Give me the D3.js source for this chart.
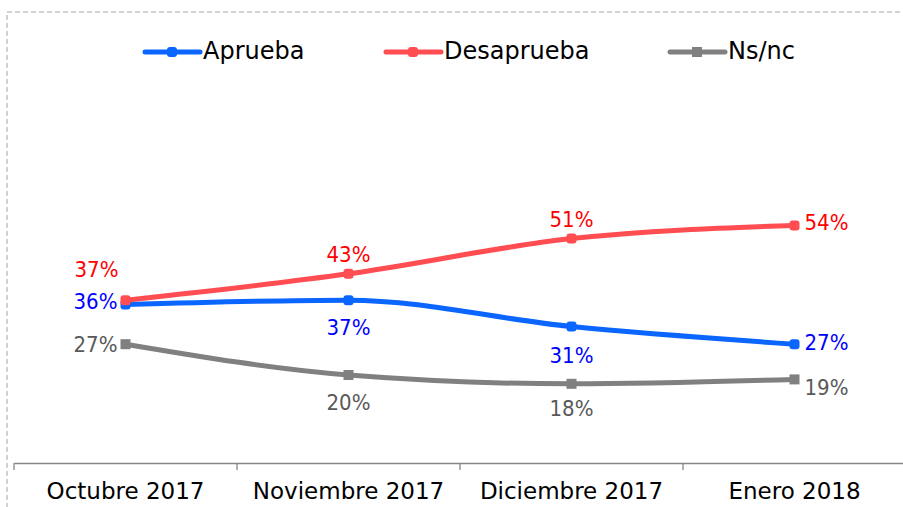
<!DOCTYPE html>
<html>
<head>
<meta charset="utf-8">
<script src="https://cdn.jsdelivr.net/npm/d3@7"></script>
<style>
  body { margin: 0; background: #fff; }
  svg { font-family: "DejaVu Sans Condensed", "DejaVu Sans", sans-serif; }
</style>
</head>
<body>
<svg id="chart" width="903" height="507"></svg>
<script>
// months on the x axis
var months = ["Octubre 2017", "Noviembre 2017", "Diciembre 2017", "Enero 2018"];
// values in percent
var aprueba = [36, 37, 31, 27];
var desaprueba = [37, 43, 51, 54];
var nsnc = [27, 20, 18, 19];
var seriesNames = ["Aprueba", "Desaprueba", "Ns/nc"];

var svg = d3.select("#chart");

// dashed frame round the chart area
svg.append("rect")
    .attr("x", 7).attr("y", 12)
    .attr("width", 920).attr("height", 520)
    .attr("fill", "none")
    .attr("stroke", "#c3c3c3")
    .attr("stroke-width", 1.5)
    .attr("stroke-dasharray", "5,3");

var x = d3.scaleBand().domain(months).range([14, 906]);
var y = d3.scaleLinear().domain([0, 80]).range([463, 111]);

// x axis, ticks between the categories
var axis = svg.append("g")
    .attr("transform", "translate(0,463)")
    .call(d3.axisBottom(x).tickSize(0).tickPadding(20));
axis.select(".domain").attr("stroke", "#868686").attr("stroke-width", 1.3);
axis.selectAll("text")
    .attr("font-size", 23)
    .attr("font-family", "DejaVu Sans")
    .attr("fill", "#000");
axis.selectAll(".sep")
    .data(d3.range(months.length + 1))
    .enter().append("line")
    .attr("class", "sep")
    .attr("x1", i => 14 + i * x.bandwidth())
    .attr("x2", i => 14 + i * x.bandwidth())
    .attr("y1", 0).attr("y2", 7)
    .attr("stroke", "#868686").attr("stroke-width", 1.3);

// label placement per point: [anchor, dx, dy]
var series = [
  { name: seriesNames[0], values: aprueba, color: "#0a66ff", text: "#0000ff", round: 3,
    pos: [["end", -8, 4], ["middle", 0, 35], ["middle", 0, 36], ["start", 10, 6]] },
  { name: seriesNames[1], values: desaprueba, color: "#ff4d52", text: "#ff0000", round: 3,
    pos: [["end", -7, -23], ["middle", 0, -12], ["middle", 0, -12], ["start", 10, 5]] },
  { name: seriesNames[2], values: nsnc, color: "#808080", text: "#595959", round: 0,
    pos: [["end", -8, 8], ["middle", 0, 35], ["middle", 0, 32], ["start", 10, 16]] }
];

var line = d3.line()
    .x((d, i) => x(months[i]) + x.bandwidth() / 2)
    .y(d => y(d))
    .curve(d3.curveMonotoneX);

// draw gray first so the colored lines sit on top
var order = [series[2], series[0], series[1]];

order.forEach(function(s) {
    var g = svg.append("g");
    g.append("path")
        .datum(s.values)
        .attr("d", line)
        .attr("fill", "none")
        .attr("stroke", s.color)
        .attr("stroke-width", 5)
        .attr("stroke-linecap", "round");
    g.selectAll("rect")
        .data(s.values)
        .enter().append("rect")
        .attr("x", (d, i) => x(months[i]) + x.bandwidth() / 2 - 5)
        .attr("y", d => y(d) - 5)
        .attr("width", 10).attr("height", 10)
        .attr("rx", s.round)
        .attr("fill", s.color);
});

// data labels
series.forEach(function(s) {
    svg.append("g").selectAll("text")
        .data(s.values)
        .enter().append("text")
        .attr("font-size", 22)
        .attr("fill", s.text)
        .attr("x", (d, i) => x(months[i]) + x.bandwidth() / 2 + s.pos[i][1])
        .attr("y", (d, i) => y(d) + s.pos[i][2])
        .attr("text-anchor", (d, i) => s.pos[i][0])
        .text(d => d + "%");
});

// legend along the top
var legendX = [145, 386, 670];
var legend = svg.append("g");
series.forEach(function(s, i) {
    var lg = legend.append("g").attr("transform", "translate(" + legendX[i] + ",52)");
    lg.append("line")
        .attr("x1", 0).attr("x2", 55)
        .attr("stroke", s.color).attr("stroke-width", 5)
        .attr("stroke-linecap", "round");
    lg.append("rect")
        .attr("x", 22).attr("y", -5)
        .attr("width", 10).attr("height", 10)
        .attr("rx", s.round)
        .attr("fill", s.color);
    lg.append("text")
        .attr("x", 58).attr("y", 7)
        .attr("font-size", 24)
        .attr("font-family", "DejaVu Sans")
        .attr("fill", "#000")
        .text(s.name);
});
</script>
</body>
</html>
